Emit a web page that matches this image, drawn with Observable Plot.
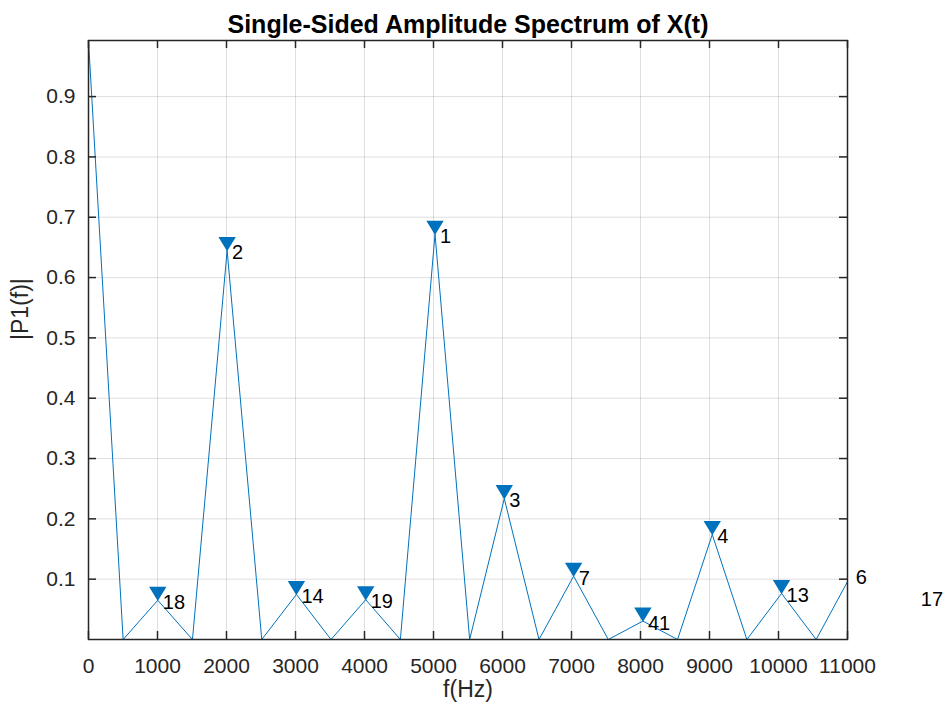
<!DOCTYPE html>
<html>
<head>
<meta charset="utf-8">
<script src="https://cdn.jsdelivr.net/npm/d3@7"></script>
<script src="https://cdn.jsdelivr.net/npm/@observablehq/plot@0.6"></script>
<style>
  html, body { margin: 0; padding: 0; background: #fff; }
</style>
</head>
<body>
<div id="chart"></div>
<script>
// Spectrum samples (frequency in Hz, single-sided amplitude)
const freqHz = [0, 502, 1004, 1507, 2009, 2511, 3013, 3515, 4018, 4520, 5022, 5524,
  6026, 6529, 7031, 7533, 8035, 8537, 9040, 9542, 10044, 10546, 11048, 11551, 12053];
const amplitude = [0.993, 0, 0.065, 0, 0.645, 0, 0.0747, 0, 0.066, 0, 0.672, 0,
  0.2336, 0, 0.105, 0, 0.0305, 0, 0.174, 0, 0.0763, 0, 0.106, 0, 0.070];

// Detected peaks and their rank labels
const peakFreqHz = [1004, 2009, 3013, 4018, 5022, 6026, 7031, 8035, 9040, 10044, 11048, 11990];
const peakAmp = [0.065, 0.645, 0.0747, 0.066, 0.672, 0.2336, 0.105, 0.0305, 0.174, 0.0763, 0.106, 0.070];
const peakRank = ["18", "2", "14", "19", "1", "3", "7", "41", "4", "13", "6", "17"];

// Axis ticks
const xTicks = [0, 1000, 2000, 3000, 4000, 5000, 6000, 7000, 8000, 9000, 10000, 11000];
const yTicks = [0.1, 0.2, 0.3, 0.4, 0.5, 0.6, 0.7, 0.8, 0.9];
const xMax = 11000;
const yMax = 0.993;

const titleText = "Single-Sided Amplitude Spectrum of X(t)";
const xLabel = "f(Hz)";
const yLabel = "|P1(f)|";

const spectrum = freqHz.map((f, i) => ({f, a: amplitude[i]}));
const peaks = peakFreqHz.map((f, i) => ({f, a: peakAmp[i], rank: peakRank[i]}));

const W = 947, H = 713;
const mL = 88, mR = 100, mT = 40, mB = 74;
const frameW = W - mL - mR, frameH = H - mT - mB;
const tickLen = 8;
const axisColor = "#262626";
const blue = "#0072BD";

// downward triangle marker with its tip at the data point
const triangleDown = {
  draw(context) {
    context.moveTo(-8.7, -13.5);
    context.lineTo(8.7, -13.5);
    context.lineTo(0, 0.8);
    context.closePath();
  }
};

const chart = Plot.plot({
  width: W,
  height: H,
  marginLeft: mL,
  marginRight: mR,
  marginTop: mT,
  marginBottom: mB,
  style: {fontFamily: "'Liberation Sans', Arial, Helvetica, sans-serif", background: "#fff", overflow: "visible"},
  x: {domain: [0, xMax]},
  y: {domain: [0, yMax]},
  marks: [
    Plot.gridX(xTicks, {stroke: axisColor, strokeOpacity: 0.15, strokeWidth: 1}),
    Plot.gridY(yTicks, {stroke: axisColor, strokeOpacity: 0.15, strokeWidth: 1}),
    Plot.line(spectrum, {x: "f", y: "a", stroke: blue, strokeWidth: 1, clip: true}),
    // markers whose point lies outside the axes are hidden (as in MATLAB)
    Plot.dot(peaks, {filter: d => d.f <= xMax, x: "f", y: "a", symbol: triangleDown, fill: blue, stroke: "none"}),
    Plot.text(peaks, {x: "f", y: "a", text: "rank", textAnchor: "start", dx: 5, dy: 2, fontSize: 20, fill: "#000"}),
    Plot.frame({stroke: axisColor, strokeWidth: 1.5}),
    Plot.tickX(xTicks, {x: d => d, insetTop: frameH - tickLen, stroke: axisColor, strokeWidth: 1.5}),
    Plot.tickX(xTicks, {x: d => d, insetBottom: frameH - tickLen, stroke: axisColor, strokeWidth: 1.5}),
    Plot.tickY(yTicks, {y: d => d, insetRight: frameW - tickLen, stroke: axisColor, strokeWidth: 1.5}),
    Plot.tickY(yTicks, {y: d => d, insetLeft: frameW - tickLen, stroke: axisColor, strokeWidth: 1.5}),
    Plot.axisX({ticks: xTicks, tickFormat: d => String(d), tickSize: 0, tickPadding: 19, fontSize: 21, fill: axisColor, label: null}),
    Plot.axisY({ticks: yTicks, tickFormat: d => d.toFixed(1), tickSize: 0, tickPadding: 13, fontSize: 21, fill: axisColor, label: null}),
    Plot.text([titleText], {text: d => d, frameAnchor: "top", dy: -25, fontSize: 25, fontWeight: "bold", fill: "#000"}),
    Plot.text([xLabel], {text: d => d, frameAnchor: "bottom", dy: 57, fontSize: 23, fill: axisColor}),
    Plot.text([yLabel], {text: d => d, frameAnchor: "left", dx: -68, rotate: -90, fontSize: 23, fill: axisColor})
  ]
});

document.getElementById("chart").appendChild(chart);
</script>
</body>
</html>
